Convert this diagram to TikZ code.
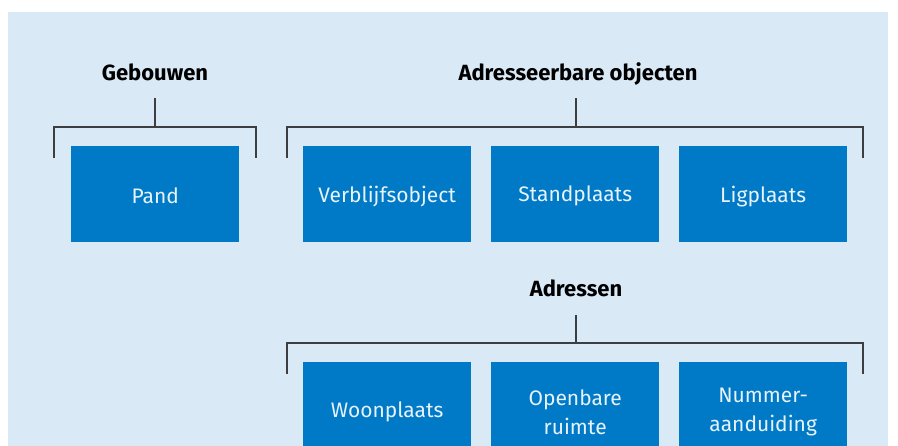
\documentclass[tikz,border=0pt]{standalone}
\usepackage{fontspec}
\setmainfont{Fira Sans}
\definecolor{panelbg}{RGB}{217,234,246}
\definecolor{boxblue}{RGB}{0,122,198}
\definecolor{boxtext}{RGB}{232,242,250}
\definecolor{bracketgray}{RGB}{60,62,66}
\begin{document}
\begin{tikzpicture}[x=1pt,y=-1pt,
  grouplabel/.style={font=\fontsize{22}{24}\selectfont\bfseries, text=black, inner sep=0pt, anchor=base},
  entity/.style={fill=boxblue, draw=none, minimum width=168pt, minimum height=96pt,
    inner sep=0pt, anchor=north west,
    label={[entitytext]center:#1}},
  entitytext/.style={text=boxtext, align=center, inner sep=0pt, yshift=-2pt,
    font=\fontsize{21}{29}\selectfont},
  bracket/.style={draw=bracketgray, line width=2pt, line cap=butt, line join=miter}]
  \useasboundingbox (0,0) rectangle (898,445);
  \fill[white] (0,0) rectangle (898,445);
  \clip (0,0) rectangle (898,445);
  \fill[panelbg] (8,12) rectangle (888,460);

  % Gebouwen
  \node[grouplabel] (gebouwen) at (155,80) {Gebouwen};
  \node[entity={Pand}] (pand) at (71,146) {};
  \coordinate (gtop) at (155,98);
  \coordinate (gmid) at (155,127);
  \coordinate (gl) at (54,158);
  \coordinate (gr) at (256,158);
  \draw[bracket] (gtop) -- (gmid);
  \draw[bracket] (gl) |- (gmid) -| (gr);

  % Adresseerbare objecten
  \node[grouplabel] (ao) at (578,80) {Adresseerbare objecten};
  \node[entity={Verblijfsobject}] (vbo) at (303,146) {};
  \node[entity={Standplaats}] (sta) at (491,146) {};
  \node[entity={Ligplaats}] (lig) at (679,146) {};
  \coordinate (atop) at (576,98);
  \coordinate (amid) at (576,127);
  \coordinate (al) at (287,158);
  \coordinate (ar) at (863,158);
  \draw[bracket] (atop) -- (amid);
  \draw[bracket] (al) |- (amid) -| (ar);

  % Adressen
  \node[grouplabel] (adr) at (576,296) {Adressen};
  \node[entity={Woonplaats}] (wpl) at (303,362) {};
  \node[entity={Openbare\\ruimte}] (opr) at (491,362) {};
  \node[entity={Nummer-\\aanduiding}] (num) at (679,362) {};
  \coordinate (dtop) at (576,315);
  \coordinate (dmid) at (576,343);
  \coordinate (dl) at (287,374);
  \coordinate (dr) at (863,374);
  \draw[bracket] (dtop) -- (dmid);
  \draw[bracket] (dl) |- (dmid) -| (dr);
\end{tikzpicture}
\end{document}
